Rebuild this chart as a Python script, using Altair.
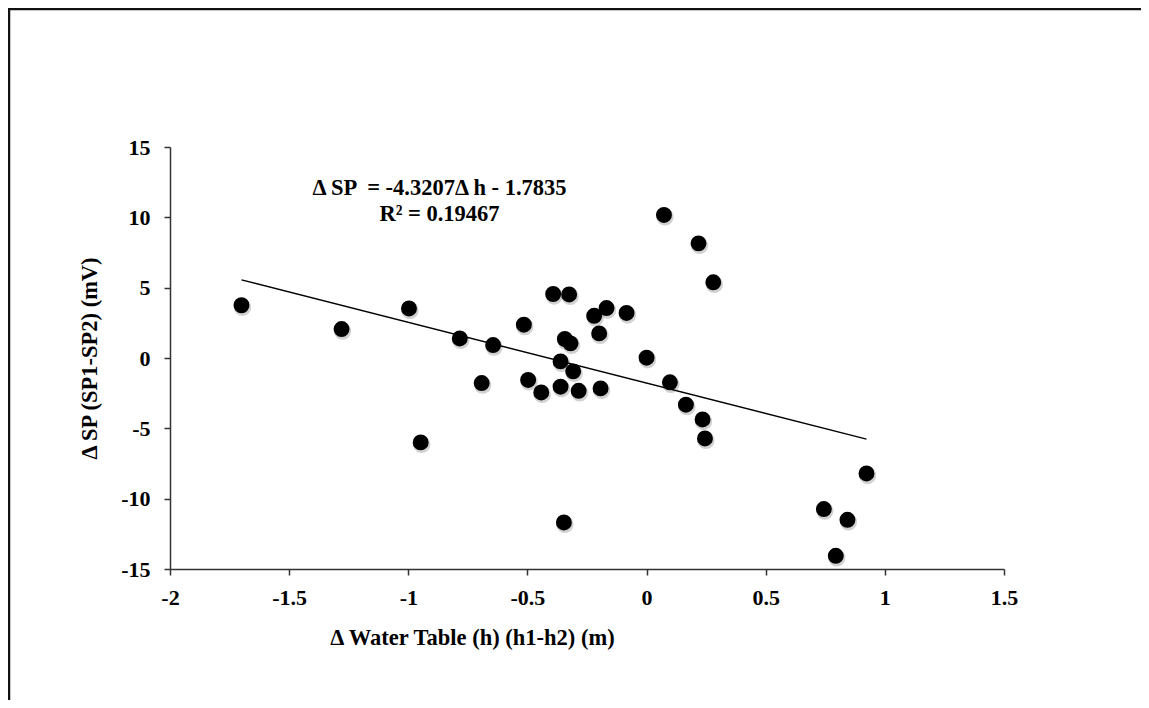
import altair as alt
import pandas as pd

dh = [-1.70, -1.28, -0.997, -0.784, -0.644, -0.692, -0.948, -0.515, -0.497, -0.442,
      -0.361, -0.285, -0.193, -0.361, -0.308, -0.343, -0.319, -0.199, -0.220, -0.168,
      -0.084, 0.0, 0.098, 0.165, -0.392, -0.325, 0.073, 0.218, 0.280, 0.235,
      0.245, 0.923, 0.744, 0.843, 0.794, -0.347]
dsp = [3.75, 2.06, 3.52, 1.39, 0.92, -1.78, -6.0, 2.37, -1.56, -2.45,
       -2.04, -2.33, -2.16, -0.24, -0.95, 1.35, 1.04, 1.75, 3.0, 3.55,
       3.2, 0.02, -1.73, -3.32, 4.55, 4.52, 10.17, 8.15, 5.38, -4.37,
       -5.72, -8.21, -10.74, -11.5, -14.06, -11.69]

# Published linear fit
slope = -4.3207
intercept = -1.7835
eq_lines = ["\u0394 SP \u00a0= -4.3207\u0394 h - 1.7835", "R\u00b2 = 0.19467"]
eq_x = [-0.869, -0.869]
eq_y = [12.1, 10.25]

x_ticks = [-2, -1.5, -1, -0.5, 0, 0.5, 1, 1.5]
y_ticks = [-15, -10, -5, 0, 5, 10, 15]

FONT = "Liberation Serif"

pts = pd.DataFrame({"dh": dh, "dsp": dsp})
xmin, xmax = min(dh), max(dh)
fit = pd.DataFrame({"dh": [xmin, xmax],
                    "dsp": [slope * xmin + intercept, slope * xmax + intercept]})
eq = pd.DataFrame({"t": eq_lines, "x": eq_x, "y": eq_y})

xscale = alt.Scale(domain=[-2, 1.5], nice=False, zero=False)
yscale = alt.Scale(domain=[-15, 15], nice=False, zero=False)

axis_common = dict(
    grid=False, domainColor="#333333", domainWidth=1.5, tickColor="#333333",
    tickWidth=1.5, tickSize=6, labelFont=FONT, labelFontSize=22,
    labelFontWeight="bold", labelColor="black", titleFont=FONT, titleFontSize=22.5,
    titleFontWeight="bold", titleColor="black", labelExpr="'' + datum.value",
)

xaxis = alt.Axis(values=x_ticks, labelPadding=12, title="\u0394 Water Table (h) (h1-h2) (m)",
                 titleX=302, titleY=68, titleAlign="center", titleBaseline="middle",
                 labelFlush=False, **axis_common)
yaxis = alt.Axis(values=y_ticks, labelPadding=14, title="\u0394 SP (SP1-SP2) (mV)",
                 titlePadding=19, labelFlush=False, **axis_common)

shadow = alt.Chart(pts).mark_circle(color="#9a9a9a", opacity=0.45, size=300,
                                    xOffset=1, yOffset=2).encode(
    x=alt.X("dh:Q", scale=xscale, axis=xaxis),
    y=alt.Y("dsp:Q", scale=yscale, axis=yaxis),
)

points = alt.Chart(pts).mark_circle(color="black", opacity=1, size=254).encode(
    x=alt.X("dh:Q", scale=xscale),
    y=alt.Y("dsp:Q", scale=yscale),
)

line = alt.Chart(fit).mark_line(color="black", strokeWidth=1.3).encode(
    x=alt.X("dh:Q", scale=xscale),
    y=alt.Y("dsp:Q", scale=yscale),
)

text = alt.Chart(eq).mark_text(font=FONT, fontSize=22.5, fontWeight="bold", color="black",
                               align="center", baseline="middle").encode(
    x=alt.X("x:Q", scale=xscale),
    y=alt.Y("y:Q", scale=yscale),
    text="t:N",
)

frame_df = pd.DataFrame({"a": [0]})
frame_top = alt.Chart(frame_df).mark_rule(color="#111111", strokeWidth=2.5, clip=False).encode(
    x=alt.value(-162), x2=alt.value(971), y=alt.value(-138)
)
frame_left = alt.Chart(frame_df).mark_rule(color="#111111", strokeWidth=2.5, clip=False).encode(
    x=alt.value(-161), y=alt.value(-139), y2=alt.value(553)
)

chart = alt.layer(shadow, line, points, text, frame_top, frame_left).properties(
    width=834, height=422,
    background="white",
    autosize=alt.AutoSizeParams(type="none"),
    padding={"left": 162, "top": 139, "right": 137, "bottom": 131},
).configure_view(strokeWidth=0)

chart.save("out.html", embed_options={"renderer": "svg", "actions": False})
